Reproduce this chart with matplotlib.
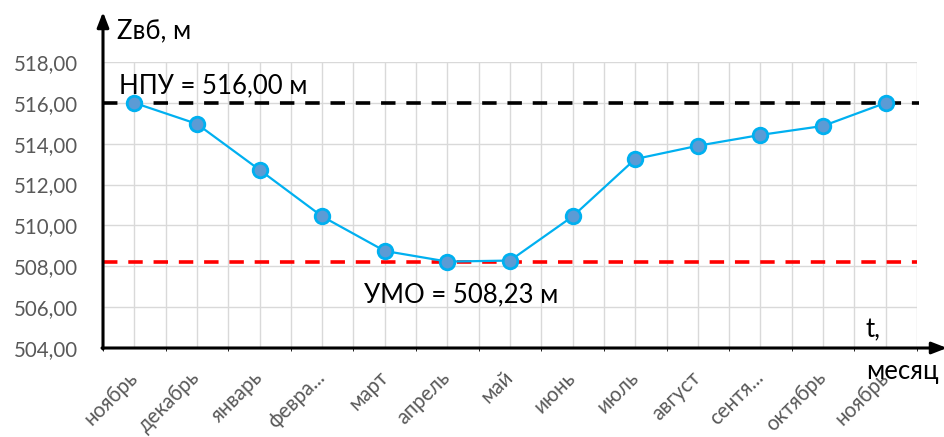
import numpy as np
import matplotlib.pyplot as plt

plt.rcParams['font.family'] = ['Lato', 'DejaVu Sans']

months = ["ноябрь", "декабрь", "январь", "февра...", "март", "апрель", "май",
          "июнь", "июль", "август", "сентя...", "октябрь", "ноябрь"]
z_vb = [516.00, 514.97, 512.72, 510.44, 508.75, 508.23, 508.28,
        510.44, 513.25, 513.90, 514.43, 514.87, 516.00]
npu = 516.00
umo = 508.23
y_ticks = np.arange(504, 519, 2)

fig = plt.figure(figsize=(9.44, 4.37), dpi=100)
ax = fig.add_axes([103 / 944, 1 - 348 / 437, 814 / 944, 286 / 437])

x = np.arange(len(months))
ax.set_xlim(-0.5, len(months) - 0.5)
ax.set_ylim(504, 518)

ax.set_yticks(y_ticks)
ax.set_yticklabels([f"{v:.2f}".replace(".", ",") for v in y_ticks])
ax.set_xticks(x)
ax.set_xticklabels(months, rotation=45, ha="right", va="center", rotation_mode="anchor")
ax.set_xticks(np.arange(-0.5, len(months), 1), minor=True)
ax.tick_params(axis="both", length=0, colors="#595959")
ax.tick_params(axis="y", pad=18, labelsize=14.8)
ax.tick_params(axis="x", which="major", pad=19, labelsize=14.8)
ax.grid(True, which="both", color="#D9D9D9", lw=1)
ax.set_axisbelow(True)
for s in ax.spines.values():
    s.set_visible(False)

ax.axhline(npu, color="black", lw=2.6, ls=(0, (4, 3)), xmax=1.003, clip_on=False)
ax.axhline(umo, color="#FF0000", lw=2.6, ls=(0, (4, 3)))
ax.plot(x, z_vb, color="#00B0F0", lw=1.6, marker="o", ms=10.5,
        mfc="#5B9BD5", mec="#00B0F0", mew=2, zorder=5)

# axis arrows
arrow = dict(arrowstyle="-|>,head_length=0.9,head_width=0.35", color="black", lw=2.2,
             shrinkA=0, shrinkB=0)
ax.annotate("", xy=(103 / 944, 1 - 12 / 437), xytext=(103 / 944, 1 - 349 / 437),
            xycoords="figure fraction", textcoords="figure fraction", arrowprops=arrow)
ax.annotate("", xy=(947 / 944, 1 - 348 / 437), xytext=(102 / 944, 1 - 348 / 437),
            xycoords="figure fraction", textcoords="figure fraction", arrowprops=arrow)

fs = 18.5
fig.text(117 / 944, 1 - 31 / 437, "Zвб, м", fontsize=fs, va="center")
fig.text(119 / 944, 1 - 86 / 437, "НПУ = 516,00 м", fontsize=fs, va="center")
fig.text(364 / 944, 1 - 295 / 437, "УМО = 508,23 м", fontsize=fs, va="center")
fig.text(866 / 944, 1 - 330 / 437, "t,", fontsize=fs, va="center")
fig.text(866 / 944, 1 - 371 / 437, "месяц", fontsize=fs, va="center")

fig.savefig("out.png", dpi=100)
